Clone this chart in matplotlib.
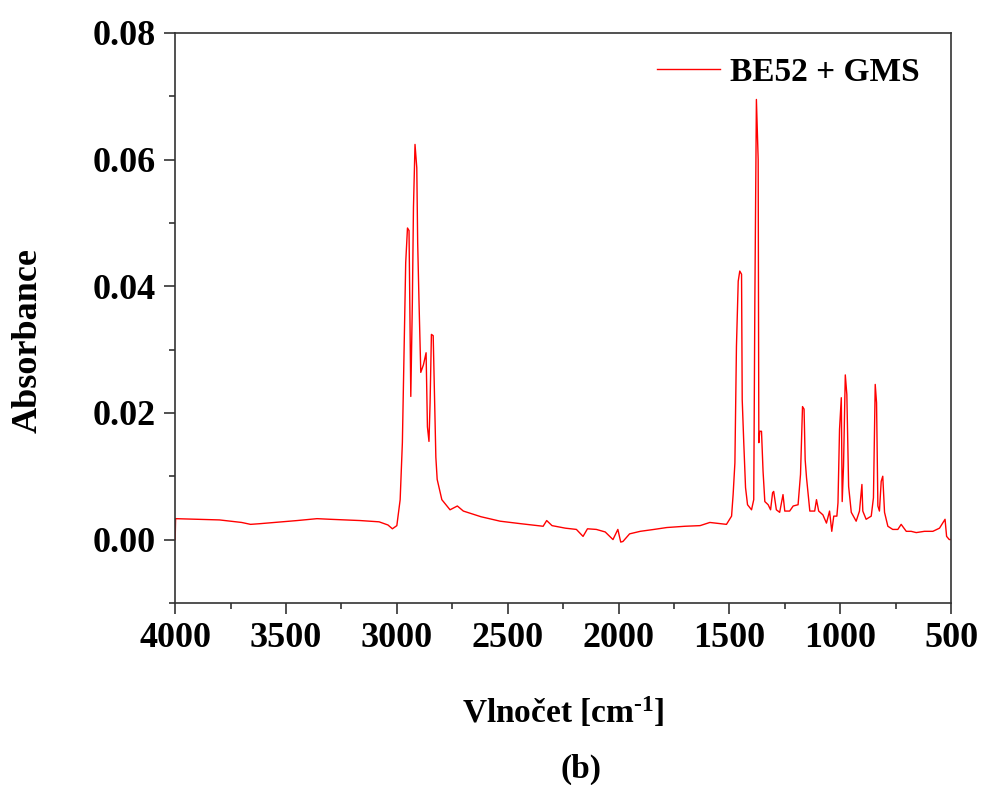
import numpy as np
import matplotlib
matplotlib.use("Agg")
import matplotlib.pyplot as plt
from matplotlib.ticker import MultipleLocator

plt.rcParams['font.family'] = ['Liberation Serif', 'DejaVu Serif']
plt.rcParams['font.weight'] = 'bold'
plt.rcParams['mathtext.fontset'] = 'custom'
plt.rcParams['mathtext.rm'] = 'Liberation Serif:bold'
plt.rcParams['mathtext.default'] = 'rm'

##################################################
# FTIR spectrum: (wavenumber, absorbance)

baseline_high = [(4000, 0.0), (3998, 0.0033), (3900, 0.0032), (3800, 0.0031),
                 (3700, 0.0027), (3660, 0.0024), (3620, 0.0025), (3550, 0.0027),
                 (3450, 0.0030), (3360, 0.0033), (3300, 0.0032), (3165, 0.0030),
                 (3080, 0.0028), (3040, 0.0023), (3020, 0.0017), (3000, 0.0022)]
ch_stretch = [(2985, 0.0063), (2975, 0.0153), (2967, 0.0305), (2960, 0.0437),
              (2952, 0.0492), (2945, 0.0488), (2937, 0.0226), (2930, 0.0374),
              (2925, 0.0524), (2918, 0.0624), (2910, 0.0587), (2906, 0.0469),
              (2900, 0.0376), (2892, 0.0264), (2880, 0.0276), (2868, 0.0295),
              (2862, 0.0178), (2855, 0.0155), (2850, 0.0216), (2844, 0.0324),
              (2836, 0.0322), (2832, 0.0256), (2824, 0.0130), (2818, 0.0095),
              (2797, 0.0063), (2760, 0.0047), (2727, 0.0053), (2700, 0.0045)]
baseline_mid = [(2620, 0.0036), (2534, 0.0029), (2440, 0.0025), (2340, 0.0021),
                (2324, 0.0030), (2300, 0.0022), (2240, 0.0018), (2190, 0.0016),
                (2160, 0.0005), (2140, 0.0017), (2100, 0.0016), (2060, 0.0012),
                (2025, 0.0000), (2003, 0.0016), (1990, -0.0004), (1980, -0.0003),
                (1950, 0.0009), (1902, 0.0013), (1840, 0.0016), (1782, 0.0019),
                (1700, 0.0021), (1632, 0.0022), (1588, 0.0027), (1540, 0.0025),
                (1513, 0.0024), (1490, 0.0037)]
fingerprint = [(1483, 0.0071), (1475, 0.0121), (1468, 0.0305), (1460, 0.0408),
               (1453, 0.0424), (1445, 0.0419), (1442, 0.0221), (1435, 0.0153),
               (1427, 0.0082), (1418, 0.0055), (1400, 0.0047), (1390, 0.0063),
               (1385, 0.0376), (1378, 0.0695), (1370, 0.0600), (1367, 0.0153),
               (1363, 0.0171), (1355, 0.0171), (1348, 0.0108), (1340, 0.0060),
               (1325, 0.0055), (1314, 0.0047), (1305, 0.0074), (1300, 0.0076),
               (1288, 0.0047), (1273, 0.0043), (1258, 0.0071), (1250, 0.0045),
               (1228, 0.0045), (1212, 0.0053), (1190, 0.0055), (1179, 0.0103),
               (1170, 0.0210), (1163, 0.0206), (1158, 0.0126), (1152, 0.0098),
               (1137, 0.0045), (1115, 0.0045), (1107, 0.0063), (1097, 0.0045),
               (1078, 0.0039), (1062, 0.0026), (1048, 0.0045), (1038, 0.0013),
               (1029, 0.0037), (1015, 0.0037), (1010, 0.0058), (1003, 0.0174),
               (995, 0.0224), (991, 0.0060), (985, 0.0116), (977, 0.0260),
               (970, 0.0229), (962, 0.0084), (950, 0.0043), (928, 0.0029),
               (913, 0.0045), (902, 0.0087), (898, 0.0045), (883, 0.0032),
               (860, 0.0037), (850, 0.0066), (842, 0.0245), (836, 0.0216),
               (830, 0.0053), (823, 0.0045), (815, 0.0092), (808, 0.0100),
               (800, 0.0043), (785, 0.0021), (763, 0.0016), (740, 0.0016),
               (725, 0.0024), (702, 0.0013), (680, 0.0013), (657, 0.0011),
               (620, 0.0013), (582, 0.0013), (552, 0.0018), (527, 0.0032),
               (520, 0.0005), (508, 0.0000), (500, 0.0000)]

spectrum = baseline_high + ch_stretch + baseline_mid + fingerprint
wavenumber = np.array([p[0] for p in spectrum])
absorbance = np.array([p[1] for p in spectrum])

series_label = 'BE52 + GMS'
x_label = 'Vlnočet [cm$^{\\text{-1}}$]'
y_label = 'Absorbance'
panel_label = '(b)'

##################################################

fig = plt.figure(figsize=(9.84, 7.85), dpi=100)
ax = fig.add_axes([0.178, 0.232, 0.7885, 0.726])

ax.plot(wavenumber, absorbance, color='#ff0000', lw=1.0, label=series_label)

ax.set_xlim(4000, 500)
ax.set_ylim(-0.01, 0.08)
ax.xaxis.set_major_locator(MultipleLocator(500))
ax.xaxis.set_minor_locator(MultipleLocator(250))
ax.yaxis.set_major_locator(MultipleLocator(0.02))
ax.yaxis.set_minor_locator(MultipleLocator(0.01))
ax.yaxis.set_major_formatter(plt.FormatStrFormatter('%.2f'))

for s in ax.spines.values():
    s.set_linewidth(1.2)
    s.set_color('#333333')
ax.tick_params(which='major', direction='out', length=8, width=1.2,
               labelsize=26, pad=6, color='#333333')
ax.tick_params(which='minor', direction='out', length=4.5, width=1.2,
               color='#333333')
ax.tick_params(top=False, right=False, which='both')

ax.legend(loc='upper right', frameon=False, fontsize=24, handlelength=1.9,
          handletextpad=0.3, borderaxespad=0.3, bbox_to_anchor=(0.99, 0.999))

fig.text(0.0285, 0.566, y_label, rotation=90, ha='center', va='center', fontsize=26)
fig.text(0.572, 0.092, x_label, ha='center', va='center', fontsize=24)
fig.text(0.59, 0.02, panel_label, ha='center', va='center', fontsize=24)

plt.savefig('out.png', dpi=100)
